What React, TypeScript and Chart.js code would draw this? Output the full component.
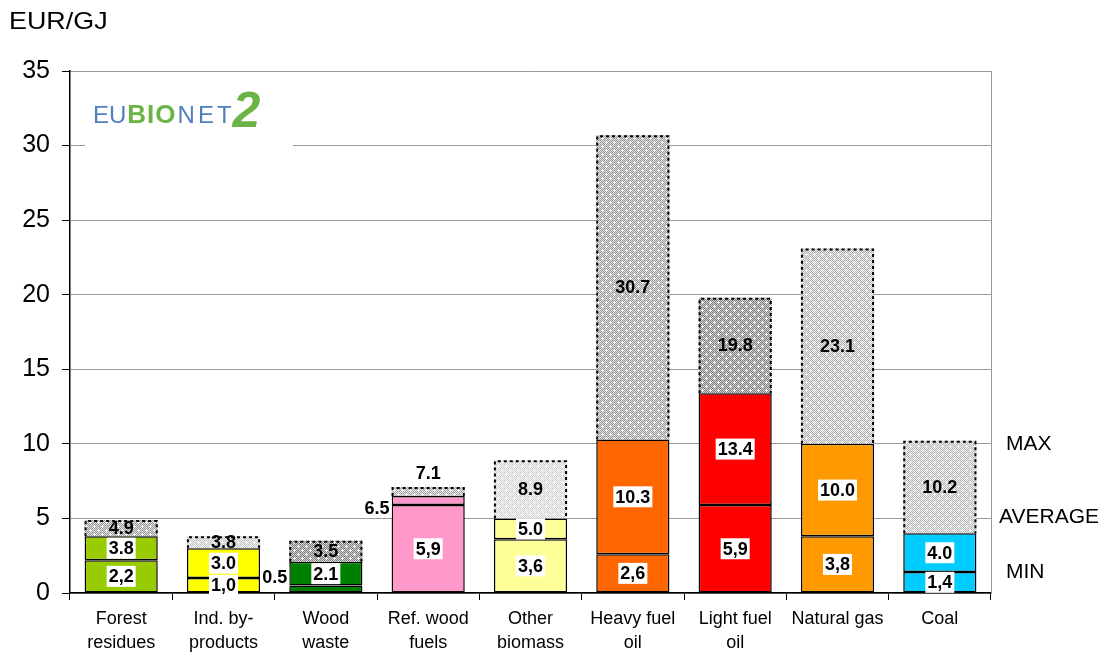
import React, { useEffect, useRef } from "react";
import { Chart, registerables } from "chart.js";

Chart.register(...registerables);

const FONT = "Arial, 'Liberation Sans', sans-serif";

const CATEGORIES: string[][] = [
  ["Forest", "residues"],
  ["Ind. by-", "products"],
  ["Wood", "waste"],
  ["Ref. wood", "fuels"],
  ["Other", "biomass"],
  ["Heavy fuel", "oil"],
  ["Light fuel", "oil"],
  ["Natural gas"],
  ["Coal"],
];

const MIN_VALUES = [2.2, 1.0, 0.5, 5.9, 3.6, 2.6, 5.9, 3.8, 1.4];
const AVG_VALUES = [3.8, 3.0, 2.1, 6.5, 5.0, 10.3, 13.4, 10.0, 4.0];
const MAX_VALUES = [4.9, 3.8, 3.5, 7.1, 8.9, 30.7, 19.8, 23.1, 10.2];

const MIN_LABELS = ["2,2", "1,0", "0.5", "5,9", "3,6", "2,6", "5,9", "3,8", "1,4"];
const AVG_LABELS = ["3.8", "3.0", "2.1", "6.5", "5.0", "10.3", "13.4", "10.0", "4.0"];
const MAX_LABELS = ["4.9", "3.8", "3.5", "7.1", "8.9", "30.7", "19.8", "23.1", "10.2"];

const Y_MIN = 0;
const Y_MAX = 35;
const Y_STEP = 5;

const BAR_COLORS = [
  "#99CC00",
  "#FFFF00",
  "#008000",
  "#FF99CC",
  "#FFFF99",
  "#FF6600",
  "#FF0000",
  "#FF9900",
  "#00CCFF",
];

// hatch shade per bar: [dark pixel colour, light pixel colour]
const HATCH_SHADES: [string, string][] = [
  ["#9a9a9a", "#e0e0e0"],
  ["#c4c4c4", "#f2f2f2"],
  ["#808080", "#d0d0d0"],
  ["#a8a8a8", "#e4e4e4"],
  ["#d0d0d0", "#f6f6f6"],
  ["#9a9a9a", "#e0e0e0"],
  ["#808080", "#d0d0d0"],
  ["#b0b0b0", "#ececec"],
  ["#b8b8b8", "#eeeeee"],
];

const KEY_LABELS = ["MAX", "AVERAGE", "MIN"];
const KEY_VALUES = [10.0, 5.1, 1.4];
const KEY_INDENT = [15, 8, 15];

type Place = { mode: "center" | "left" | "above"; dy: number };
const C: Place = { mode: "center", dy: 0 };
const MIN_PLACE: Place[] = [C, C, { mode: "left", dy: -12 }, C, C, C, C, C, C];
const AVG_PLACE: Place[] = [C, C, C, { mode: "left", dy: 7 }, C, C, C, C, C];
const MAX_PLACE: Place[] = [C, C, C, { mode: "above", dy: -14 }, C, C, C, C, C];

const LABEL_FONT = `bold 18px ${FONT}`;

function makeHatch(dark: string, light: string): CanvasPattern | string {
  const c = document.createElement("canvas");
  c.width = 8;
  c.height = 8;
  const g = c.getContext("2d");
  if (!g) return light;
  g.fillStyle = light;
  g.fillRect(0, 0, 8, 8);
  g.fillStyle = dark;
  for (let y = 0; y < 8; y++) {
    for (let x = 0; x < 8; x++) {
      if ((x + y) % 2 === 0) g.fillRect(x, y, 1, 1);
    }
  }
  g.fillStyle = "#ffffff";
  const plus = (cx: number, cy: number) => {
    g.fillRect(cx, cy, 1, 1);
    g.fillRect(cx - 1, cy, 1, 1);
    g.fillRect(cx + 1, cy, 1, 1);
    g.fillRect(cx, cy - 1, 1, 1);
    g.fillRect(cx, cy + 1, 1, 1);
  };
  plus(2, 2);
  plus(6, 6);
  const p = g.createPattern(c, "repeat");
  return p || light;
}

function drawLabel(
  ctx: CanvasRenderingContext2D,
  text: string,
  cx: number,
  cy: number,
  bg: boolean
) {
  ctx.font = LABEL_FONT;
  const w = ctx.measureText(text).width + 4;
  const h = 21;
  if (bg) {
    ctx.fillStyle = "#ffffff";
    ctx.fillRect(cx - w / 2, cy - h / 2, w, h);
  }
  ctx.fillStyle = "#000000";
  ctx.textAlign = "center";
  ctx.textBaseline = "middle";
  ctx.fillText(text, cx, cy + 1);
}

function drawSpaced(
  ctx: CanvasRenderingContext2D,
  text: string,
  x: number,
  y: number,
  spacing: number
): number {
  let cx = x;
  for (const ch of text) {
    ctx.fillText(ch, cx, y);
    cx += ctx.measureText(ch).width + spacing;
  }
  return cx;
}

const overlayPlugin = {
  id: "overlay",
  beforeDatasetsDraw(chart: any) {
    const ctx: CanvasRenderingContext2D = chart.ctx;
    const a = chart.chartArea;
    ctx.save();
    // right border
    ctx.strokeStyle = "#999999";
    ctx.lineWidth = 1;
    ctx.beginPath();
    ctx.moveTo(a.right + 0.5, a.top);
    ctx.lineTo(a.right + 0.5, a.bottom);
    ctx.stroke();
    // logo
    const lx = a.left + 15;
    const ly = a.top + 5;
    ctx.fillStyle = "#ffffff";
    ctx.fillRect(lx, ly, 208, 72);
    ctx.textBaseline = "alphabetic";
    ctx.textAlign = "left";
    let x = lx + 8;
    const by = ly + 47;
    ctx.font = `24px ${FONT}`;
    ctx.fillStyle = "#4f7fbf";
    x = drawSpaced(ctx, "EU", x, by, 0);
    x += 1;
    ctx.font = `bold 26px ${FONT}`;
    ctx.fillStyle = "#6ab344";
    x = drawSpaced(ctx, "BIO", x, by, 1);
    x += 1;
    ctx.font = `24px ${FONT}`;
    ctx.fillStyle = "#4f7fbf";
    x = drawSpaced(ctx, "NET", x, by, 3);
    ctx.font = `italic bold 50px ${FONT}`;
    ctx.fillStyle = "#6ab344";
    ctx.fillText("2", x - 2, by + 4);
    ctx.restore();
  },
  afterDatasetsDraw(chart: any) {
    const ctx: CanvasRenderingContext2D = chart.ctx;
    const metaMin = chart.getDatasetMeta(0);
    const metaAvg = chart.getDatasetMeta(1);
    const metaMax = chart.getDatasetMeta(2);
    ctx.save();
    // dotted borders of max segments
    ctx.strokeStyle = "#000000";
    ctx.lineWidth = 2;
    ctx.setLineDash([3, 3]);
    metaMax.data.forEach((el: any) => {
      const p = el.getProps(["x", "y", "base", "width"], true);
      const l = p.x - p.width / 2 + 1;
      const r = p.x + p.width / 2 - 1;
      const t = p.y + 1;
      ctx.beginPath();
      ctx.moveTo(l, p.base);
      ctx.lineTo(l, t);
      ctx.lineTo(r, t);
      ctx.lineTo(r, p.base);
      ctx.stroke();
    });
    ctx.setLineDash([]);

    const place = (el: any, pl: Place, text: string, bg: boolean) => {
      const p = el.getProps(["x", "y", "base", "width"], true);
      ctx.font = LABEL_FONT;
      const w = ctx.measureText(text).width + 4;
      let cx = p.x;
      let cy = (p.y + p.base) / 2;
      if (pl.mode === "left") {
        cx = p.x - p.width / 2 - w / 2;
      } else if (pl.mode === "above") {
        cy = p.y;
      }
      drawLabel(ctx, text, cx, cy + pl.dy, bg);
    };

    metaMax.data.forEach((el: any, i: number) => {
      place(el, MAX_PLACE[i], MAX_LABELS[i], false);
    });
    metaAvg.data.forEach((el: any, i: number) => {
      place(el, AVG_PLACE[i], AVG_LABELS[i], true);
    });
    metaMin.data.forEach((el: any, i: number) => {
      place(el, MIN_PLACE[i], MIN_LABELS[i], true);
    });
    ctx.restore();
  },
  afterDraw(chart: any) {
    const ctx: CanvasRenderingContext2D = chart.ctx;
    const a = chart.chartArea;
    const ys = chart.scales.y;
    ctx.save();
    ctx.fillStyle = "#000000";
    ctx.textAlign = "left";
    ctx.textBaseline = "middle";
    ctx.save();
    ctx.translate(9, 22);
    ctx.scale(1.12, 1);
    ctx.font = `24px ${FONT}`;
    ctx.fillText("EUR/GJ", 0, 0);
    ctx.restore();
    ctx.font = `21px ${FONT}`;
    KEY_LABELS.forEach((t, i) => {
      ctx.fillText(t, a.right + KEY_INDENT[i], ys.getPixelForValue(KEY_VALUES[i]));
    });
    ctx.restore();
  },
};

export default function App() {
  const ref = useRef<HTMLCanvasElement | null>(null);

  useEffect(() => {
    if (!ref.current) return;
    const hatches = HATCH_SHADES.map(([d, l]) => makeHatch(d, l));
    const chart = new Chart(ref.current, {
      type: "bar",
      data: {
        labels: CATEGORIES,
        datasets: [
          {
            label: "MIN",
            data: MIN_VALUES,
            backgroundColor: BAR_COLORS,
            borderColor: "#000000",
            borderWidth: 1.5,
            borderSkipped: false,
          },
          {
            label: "AVERAGE",
            data: AVG_VALUES.map((v, i) => v - MIN_VALUES[i]),
            backgroundColor: BAR_COLORS,
            borderColor: "#000000",
            borderWidth: 1.5,
            borderSkipped: false,
          },
          {
            label: "MAX",
            data: MAX_VALUES.map((v, i) => v - AVG_VALUES[i]),
            backgroundColor: hatches as any,
            borderWidth: 0,
          },
        ],
      },
      options: {
        animation: false,
        responsive: false,
        layout: { padding: { top: 71, right: 118, left: 0, bottom: 0 } },
        datasets: { bar: { categoryPercentage: 0.715, barPercentage: 1 } },
        plugins: {
          legend: { display: false },
          tooltip: { enabled: false },
        },
        scales: {
          x: {
            stacked: true,
            offset: true,
            grid: {
              display: true,
              drawOnChartArea: false,
              drawTicks: true,
              tickLength: 7,
              color: "#000000",
              offset: true,
            },
            border: { display: true, color: "#000000", width: 1.5 },
            ticks: {
              color: "#000000",
              font: { family: FONT, size: 18, lineHeight: 1.33 },
              padding: 7,
              maxRotation: 0,
              autoSkip: false,
            },
            afterFit: (s: any) => {
              s.height = 60;
            },
          },
          y: {
            stacked: true,
            min: Y_MIN,
            max: Y_MAX,
            ticks: {
              stepSize: Y_STEP,
              color: "#000000",
              font: { family: FONT, size: 25 },
              padding: 12,
            },
            grid: { color: "#999999", tickColor: "#000000", tickLength: 8, lineWidth: 1 },
            border: { display: true, color: "#000000", width: 1.5 },
            afterFit: (s: any) => {
              s.width = 70;
            },
          },
        } as any,
      },
      plugins: [overlayPlugin],
    });
    return () => chart.destroy();
  }, []);

  return (
    <div style={{ position: "absolute", left: 0, top: 0, width: 1109, height: 653, background: "#fff" }}>
      <canvas ref={ref} width={1109} height={653} />
    </div>
  );
}
